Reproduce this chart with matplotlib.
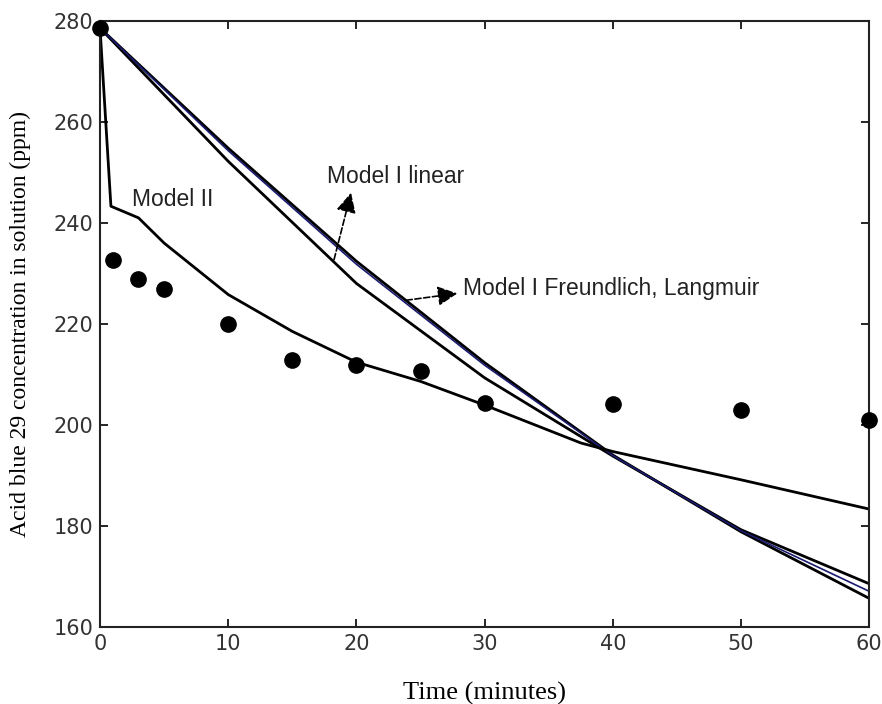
import matplotlib
matplotlib.use('Agg')
import matplotlib.pyplot as plt
import numpy as np

# experimental points
t_exp = [0, 1, 3, 5, 10, 15, 20, 25, 30, 40, 50, 60]
c_exp = [278.6, 232.6, 228.8, 226.9, 220.0, 212.9, 211.8, 210.7, 204.4, 204.1, 203.0, 200.9]

# Model II
t_m2 = [0, 0.85, 3, 5, 10, 15, 20, 25, 30, 37.5, 40, 50, 60]
c_m2 = [278.6, 243.3, 241.0, 236.0, 225.8, 218.5, 212.4, 208.6, 203.9, 196.4, 194.7, 189.1, 183.3]

# Model I curves
t_m1 = [0, 10, 20, 30, 40, 50, 60]
c_lin = [278.6, 252.2, 228.0, 209.3, 193.8, 179.2, 168.5]
c_fre = [278.6, 254.8, 232.4, 212.3, 194.0, 178.8, 165.6]
c_lang = [278.6, 254.3, 231.8, 211.8, 193.9, 179.0, 167.0]

fig = plt.figure(figsize=(8.82, 7.04), dpi=100)
ax = fig.add_axes([0.1134, 0.1098, 0.8722, 0.8604])

ax.plot(t_m1, c_lin, color='black', lw=2)
ax.plot(t_m1, c_fre, color='black', lw=2)
ax.plot(t_m1, c_lang, color='#1a1a6e', lw=1.2)
ax.plot(t_m2, c_m2, color='black', lw=2)
ax.plot(t_exp, c_exp, 'o', color='black', ms=11, clip_on=False, zorder=5)

ax.set_xlim(0, 60)
ax.set_ylim(160, 280)
ax.set_xticks(np.arange(0, 61, 10))
ax.set_yticks(np.arange(160, 281, 20))
ax.tick_params(direction='in', top=True, right=True, length=6, width=1.2,
               labelsize=15, labelcolor='#333333', pad=5)
for s in ax.spines.values():
    s.set_linewidth(1.5)
    s.set_color('#222222')

ax.set_xlabel('Time (minutes)', family='Liberation Serif', fontsize=19, labelpad=20)
ax.set_ylabel('Acid blue 29 concentration in solution (ppm)', family='Liberation Serif',
              fontsize=17, labelpad=16)

txt = dict(fontsize=16.5, color='#222222', family='Liberation Sans', va='center')
ax.text(2.5, 244.7, 'Model II', **txt)
ax.text(17.68, 249.1, 'Model I linear', **txt)
ax.text(28.34, 227.0, 'Model I Freundlich, Langmuir', **txt)

arr = dict(arrowstyle='-|>,head_length=0.6,head_width=0.3', linestyle='--',
           color='black', lw=1.2, mutation_scale=20)
ax.annotate('', xy=(19.63, 246.5), xytext=(18.2, 232.2), arrowprops=arr)
ax.annotate('', xy=(28.08, 226.1), xytext=(23.66, 224.6), arrowprops=arr)

plt.savefig('out.png', dpi=100)
